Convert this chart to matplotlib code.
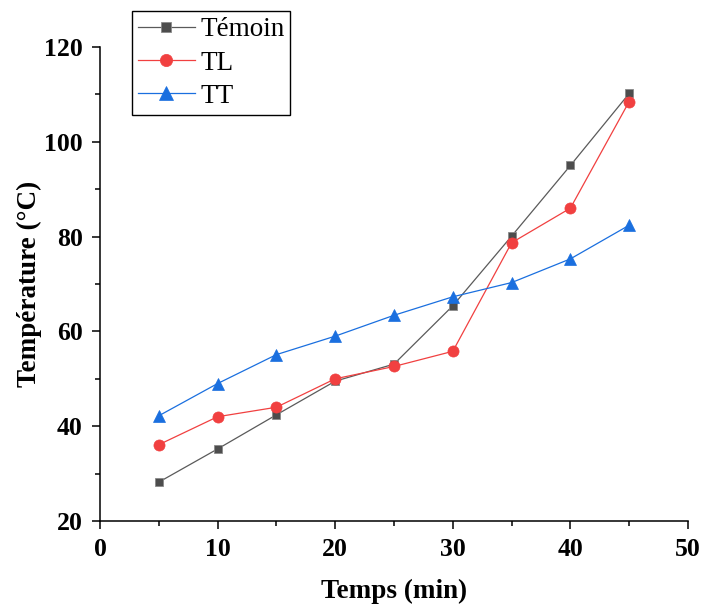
import matplotlib
matplotlib.use("Agg")
import matplotlib.pyplot as plt
from matplotlib.ticker import MultipleLocator

temps = [5, 10, 15, 20, 25, 30, 35, 40, 45]
temoin = [28.2, 35.2, 42.4, 49.5, 53.1, 65.4, 80.1, 95.0, 110.2]
tl = [36.1, 42.0, 44.0, 50.0, 52.6, 55.8, 78.7, 86.0, 108.5]
tt = [42.2, 49.0, 55.1, 59.0, 63.4, 67.3, 70.3, 75.3, 82.4]
labels = ["Témoin", "TL", "TT"]

plt.rcParams['font.family'] = ['Liberation Serif', 'DejaVu Serif']

fig = plt.figure(figsize=(7.03, 6.04), dpi=100)
ax = fig.add_axes([100/703, 83/604, 588/703, 474/604])

ax.plot(temps, temoin, color='#5a5a5a', lw=0.9, marker='s', ms=6.3,
        mfc='#4d4d4d', mec='#8a8a8a', mew=0.6, label=labels[0], zorder=3)
ax.plot(temps, tl, color='#F14040', lw=0.9, marker='o', ms=8.0,
        mfc='#F14040', mec='#F14040', mew=0.5, label=labels[1], zorder=4)
ax.plot(temps, tt, color='#1A6FDF', lw=0.9, marker='^', ms=9.2,
        mfc='#1A6FDF', mec='#1A6FDF', mew=0.5, label=labels[2], zorder=5)

ax.set_xlim(0, 50)
ax.set_ylim(20, 120)
ax.xaxis.set_major_locator(MultipleLocator(10))
ax.xaxis.set_minor_locator(MultipleLocator(5))
ax.yaxis.set_major_locator(MultipleLocator(20))
ax.yaxis.set_minor_locator(MultipleLocator(10))

for s in ['top', 'right']:
    ax.spines[s].set_visible(False)
for s in ['left', 'bottom']:
    ax.spines[s].set_linewidth(1.1)

ax.tick_params(which='major', direction='out', length=6, width=1.1,
               labelsize=18.5)
ax.tick_params(axis='y', which='major', pad=6.5)
ax.tick_params(axis='x', which='major', pad=6)
ax.tick_params(which='minor', direction='out', length=3.6, width=1.1)
for t in ax.get_xticklabels() + ax.get_yticklabels():
    t.set_fontweight('bold')

ax.set_xlabel('Temps (min)', fontsize=19.5, fontweight='bold', labelpad=13)
ax.set_ylabel('Température (°C)', fontsize=19.5, fontweight='bold', labelpad=1.5)

leg = ax.legend(loc='upper left', bbox_to_anchor=(132/703, 1 - 11.5/604),
                bbox_transform=fig.transFigure, borderaxespad=0,
                fontsize=19.5, frameon=True, fancybox=False, framealpha=1,
                edgecolor='black', handlelength=2.1, handletextpad=0.2,
                borderpad=0.22, labelspacing=0.3, markerscale=1.1)
leg.get_frame().set_linewidth(1.0)

fig.savefig('out.png', dpi=100)
